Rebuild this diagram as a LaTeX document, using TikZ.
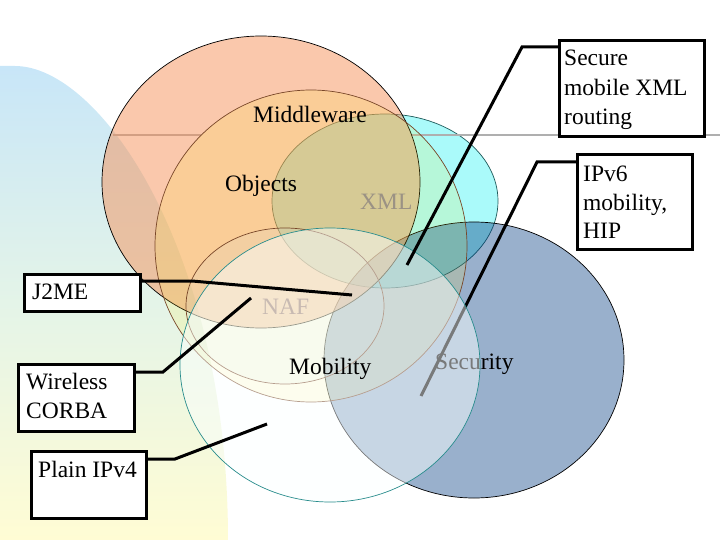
\documentclass[tikz,border=0pt]{standalone}
\usepackage{fontspec}
\setmainfont{Liberation Serif}
\definecolor{bgtop}{RGB}{200,230,248}
\definecolor{bgmid}{RGB}{228,244,232}
\definecolor{bgbot}{RGB}{255,252,212}
\definecolor{salmonc}{RGB}{245,145,89}
\definecolor{objyel}{RGB}{255,235,35}
\definecolor{xmlcyan}{RGB}{170,250,250}
\definecolor{xmlline}{RGB}{30,90,90}
\definecolor{nafc}{RGB}{200,220,225}
\definecolor{secnavy}{RGB}{0,57,128}
\definecolor{mobw}{RGB}{251,255,255}
\definecolor{mobline}{RGB}{40,140,140}
\definecolor{brownl}{RGB}{120,70,40}
\definecolor{tmplgray}{RGB}{175,175,175}
\definecolor{xmltext}{RGB}{155,146,132}
\definecolor{naftext}{RGB}{200,186,178}
\begin{document}
\begin{tikzpicture}[x=1pt,y=-1pt,
  lbl/.style={anchor=base west, inner sep=0pt, font=\fontsize{23.5}{28}\selectfont},
  boxst/.style={draw=black, line width=2.6pt, fill=white, inner sep=0pt, anchor=north west},
  conn/.style={line width=3pt, black},
  venn/.style={line width=0.7pt},
  tmpl/.style={line width=2pt, tmplgray}]
\useasboundingbox (0,0) rectangle (720,540);
% background template shape
\shade[top color=bgtop, bottom color=bgbot, middle color=bgmid]
  (0,66) -- (15,66) .. controls (100,66) and (228,250) .. (228,540) -- (0,540) -- cycle;
% XML
\draw[venn, draw=xmlline, fill=xmlcyan] (385,201) ellipse [x radius=113pt, y radius=87pt];
% Security
\draw[venn, draw=black, fill=secnavy, fill opacity=0.4] (474,360) ellipse [x radius=150pt, y radius=138pt];
% template line
\draw[tmpl] (113,135) -- (201,135);
\draw[tmpl] (412,135) -- (720,135);
% Middleware
\draw[venn, draw=black, fill=salmonc, fill opacity=0.5] (261,182) ellipse [x radius=159pt, y radius=146pt];
% Objects
\draw[venn, draw=brownl, fill=objyel, fill opacity=0.15] (311,246) circle [radius=156pt];
% NAF
\draw[venn, draw=brownl, fill=nafc, fill opacity=0.15] (285,306) ellipse [x radius=99pt, y radius=78pt];
% IPv6 box and connector (under Mobility)
\node[boxst, minimum width=115pt, minimum height=95pt] (ipbox) at (576,153) {};
\coordinate (ipbend) at (537,162);
\coordinate (ipend) at (421,396);
\draw[conn] ([yshift=-9pt]ipbox.north west) -- (ipbend) -- (ipend);
\node[lbl] (sectxt) at (435,369) {Security};
% Mobility
\draw[venn, draw=mobline, fill=mobw, fill opacity=0.48] (330,365) ellipse [x radius=150pt, y radius=137pt];
% labels
\node[lbl] (mwtxt) at (253,123) {Middleware};
\node[lbl] (objtxt) at (225,192) {Objects};
\node[lbl, text=xmltext] (xmltxt) at (360,210) {XML};
\node[lbl, text=naftext] (naftxt) at (262,314) {NAF};
\node[lbl] (mobtxt) at (289,374) {Mobility};
% boxes
\node[boxst, minimum width=145pt, minimum height=96pt] (secbox) at (558,39) {};
\node[boxst, minimum width=116pt, minimum height=37pt] (j2box) at (23,273) {};
\node[boxst, minimum width=116pt, minimum height=67pt] (wcbox) at (17,363) {};
\node[boxst, minimum width=115pt, minimum height=67pt] (ipv4box) at (30,450) {};
% connectors
\coordinate (secbend) at (522,47);
\coordinate (secend) at (407,265);
\draw[conn] ([yshift=-8pt]secbox.north west) -- (secbend) -- (secend);
\coordinate (j2bend) at (192,281);
\coordinate (j2end) at (352,295);
\draw[conn] ([yshift=-8pt]j2box.north east) -- (j2bend) -- (j2end);
\coordinate (wcbend) at (163,372);
\coordinate (wcend) at (251,298);
\draw[conn] ([yshift=-9pt]wcbox.north east) -- (wcbend) -- (wcend);
\coordinate (v4bend) at (175,459);
\coordinate (v4end) at (267,424);
\draw[conn] ([yshift=-9pt]ipv4box.north east) -- (v4bend) -- (v4end);
% box texts
\node[lbl] (sec1) at (564,66) {Secure};
\node[lbl] (sec2) at (564,96) {mobile XML};
\node[lbl] (sec3) at (564,125) {routing};
\node[lbl] (ip1) at (583,182) {IPv6};
\node[lbl] (ip2) at (583,211) {mobility,};
\node[lbl] (ip3) at (583,239) {HIP};
\node[lbl] (j2t) at (32,299) {J2ME};
\node[lbl] (wc1) at (26,389) {Wireless};
\node[lbl] (wc2) at (26,418) {CORBA};
\node[lbl] (v4t) at (38,477) {Plain IPv4};
\end{tikzpicture}
\end{document}
